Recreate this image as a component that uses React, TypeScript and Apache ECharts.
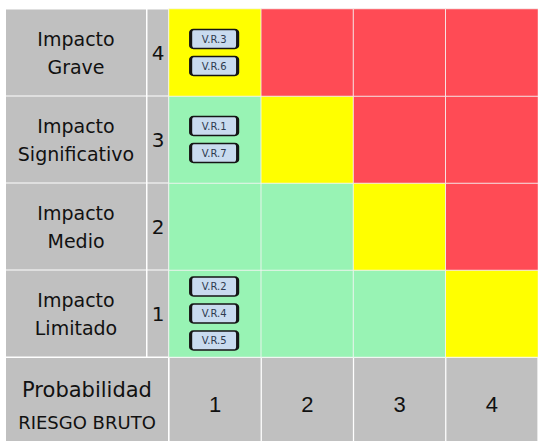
import React, { useEffect, useRef } from "react";
import * as echarts from "echarts";

// Probability (x) and impact (y) scale labels
const probabilityLevels = ["1", "2", "3", "4"];
const impactLevels = ["1", "2", "3", "4"];
const impactNames = [
  "Impacto\nLimitado",
  "Impacto\nMedio",
  "Impacto\nSignificativo",
  "Impacto\nGrave",
];
// risk level per cell: rows = impact 1..4, cols = probability 1..4 (1 low, 2 medium, 3 high)
const impact1Levels = [1, 1, 1, 2];
const impact2Levels = [1, 1, 2, 3];
const impact3Levels = [1, 2, 3, 3];
const impact4Levels = [2, 3, 3, 3];
// risks placed in the matrix
const riskNames = ["V.R.1", "V.R.2", "V.R.3", "V.R.4", "V.R.5", "V.R.6", "V.R.7"];
const riskProbability = [1, 1, 1, 1, 1, 1, 1];
const riskImpact = [3, 1, 4, 1, 1, 4, 3];

const GRAY = "#C0C0C0";
const FONT = "DejaVu Sans";
const BOX_PATH =
  "path://M3,0 H44 A3,3 0 0 1 47,3 V16 A3,3 0 0 1 44,19 H3 A3,3 0 0 1 0,16 V3 A3,3 0 0 1 3,0 Z";

export default function App() {
  const ref = useRef<HTMLDivElement>(null);
  useEffect(() => {
    if (!ref.current) return;
    const chart = echarts.init(ref.current, null, { renderer: "svg" });
    const levelRows = [impact1Levels, impact2Levels, impact3Levels, impact4Levels];
    const heat: number[][] = [];
    levelRows.forEach((row, yi) =>
      row.forEach((lv, xi) => heat.push([xi, yi, lv]))
    );
    // stack risks inside a cell
    const cellCounts: Record<string, number> = {};
    riskNames.forEach((_, i) => {
      const k = riskProbability[i] + "_" + riskImpact[i];
      cellCounts[k] = (cellCounts[k] || 0) + 1;
    });
    const cellSeen: Record<string, number> = {};
    const scatter = riskNames.map((name, i) => {
      const k = riskProbability[i] + "_" + riskImpact[i];
      const idx = cellSeen[k] || 0;
      cellSeen[k] = idx + 1;
      const n = cellCounts[k];
      const dy = (idx - (n - 1) / 2) * 27;
      return {
        name,
        value: [riskProbability[i] - 1, riskImpact[i] - 1],
        symbolOffset: [-1, dy],
      };
    });

    chart.setOption({
      animation: false,
      grid: { left: 169, top: 9, right: 0, bottom: 84, outerBoundsMode: "none", containLabel: false },
      visualMap: {
        type: "piecewise",
        show: false,
        seriesIndex: 0,
        dimension: 2,
        pieces: [
          { value: 1, color: "#98F3B4" },
          { value: 2, color: "#FFFF00" },
          { value: 3, color: "#FF4B55" },
        ],
      },
      xAxis: {
        type: "category",
        data: probabilityLevels,
        position: "bottom",
        axisLine: { show: false },
        axisTick: { show: false },
        splitLine: { show: false },
        axisLabel: {
          interval: 0,
          margin: 1,
          width: 91,
          lineHeight: 92,
          align: "center",
          verticalAlign: "top",
          backgroundColor: GRAY,
          color: "#111",
          fontSize: 22,
          fontFamily: "Liberation Sans",
        },
      },
      yAxis: [
        {
          type: "category",
          data: impactLevels,
          axisLine: { show: false },
          axisTick: { show: false },
          splitLine: { show: false },
          axisLabel: {
            interval: 0,
            margin: 11,
            width: 21,
            lineHeight: 86,
            align: "center",
            backgroundColor: GRAY,
            color: "#111",
            fontSize: 20,
            fontFamily: FONT,
          },
        },
        {
          type: "category",
          data: impactNames,
          position: "left",
          axisLine: { show: false },
          axisTick: { show: false },
          splitLine: { show: false },
          axisLabel: {
            interval: 0,
            margin: 93,
            width: 140,
            lineHeight: 28,
            padding: [15, 0, 15, 0],
            align: "center",
            backgroundColor: GRAY,
            color: "#111",
            fontSize: 19,
            fontFamily: FONT,
          },
        },
      ],
      graphic: [
        {
          type: "group",
          children: [
            {
              type: "rect",
              shape: { x: 6, y: 358, width: 162, height: 90 },
              style: { fill: GRAY },
            },
            {
              type: "text",
              x: 87,
              y: 390,
              style: {
                text: "Probabilidad",
                fontSize: 21,
                fontFamily: FONT,
                fill: "#111",
                align: "center",
                verticalAlign: "middle",
              },
            },
            {
              type: "text",
              x: 87,
              y: 422,
              style: {
                text: "RIESGO BRUTO",
                fontSize: 18,
                fontFamily: FONT,
                fill: "#111",
                align: "center",
                verticalAlign: "middle",
              },
            },
          ],
        },
      ],
      series: [
        {
          type: "heatmap",
          data: heat,
          itemStyle: { borderColor: "rgba(245,245,245,0.85)", borderWidth: 1 },
          emphasis: { disabled: true },
        },
        {
          type: "scatter",
          data: scatter,
          symbol: BOX_PATH,
          symbolSize: [47, 19],
          itemStyle: { color: "#C9DBEF", borderColor: "#151515", borderWidth: 2, opacity: 1 },
          label: {
            show: true,
            position: "inside",
            formatter: (p: any) => p.name,
            fontSize: 10,
            fontFamily: FONT,
            color: "#2E3A4E",
          },
          emphasis: { disabled: true },
        },
      ],
    });
    return () => chart.dispose();
  }, []);
  return (
    <div
      ref={ref}
      style={{ position: "fixed", left: 0, top: 0, width: 538, height: 441, background: "#fff" }}
    />
  );
}
